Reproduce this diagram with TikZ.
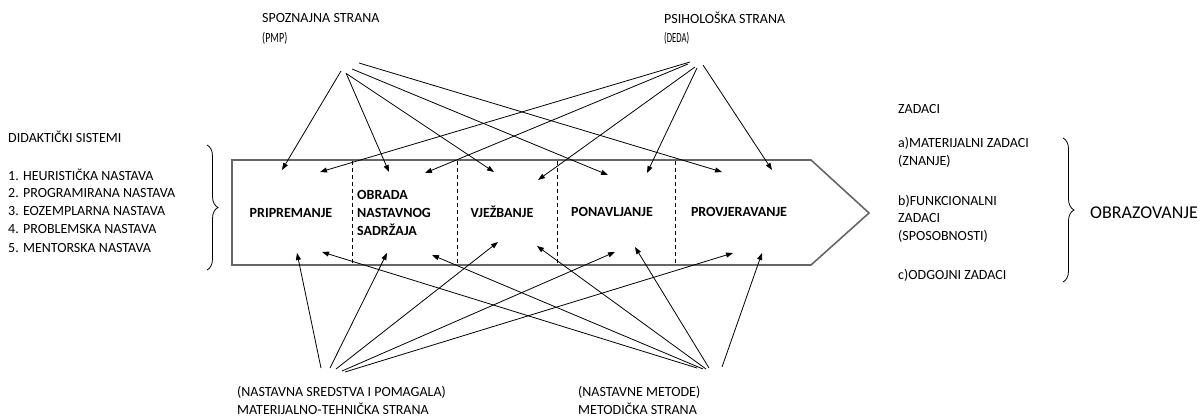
\documentclass[tikz,border=0pt]{standalone}
\usepackage{fontspec}
\setmainfont{Carlito}
\usetikzlibrary{arrows.meta,decorations.pathreplacing}
\begin{document}
\begin{tikzpicture}[x=1pt,y=-1pt,
  txt/.style={anchor=west,inner sep=0pt,font=\fontsize{14}{16}\selectfont},
  box/.style={inner sep=0pt,font=\fontsize{14}{18}\selectfont\bfseries,align=left},
  arr/.style={line width=0.8pt,-{Triangle[length=7pt,width=5pt]}},
  brc/.style={line width=0.8pt,decorate,decoration={brace,amplitude=11pt}},
  sep/.style={dashed,line width=0.7pt,dash pattern=on 4pt off 3pt}]
\useasboundingbox (0,0) rectangle (1204,419);
% main arrow shape
\draw[line width=1.6pt,draw=black!60] (232,160) -- (811,160) -- (869,213) -- (811,265) -- (232,265) -- cycle;
\coordinate (q1t) at (352,161); \coordinate (q1b) at (352,264);
\coordinate (q2t) at (457,161); \coordinate (q2b) at (457,264);
\coordinate (q3t) at (557,161); \coordinate (q3b) at (557,264);
\coordinate (q4t) at (675,161); \coordinate (q4b) at (675,264);
\draw[sep] (q1t) -- (q1b); \draw[sep] (q2t) -- (q2b);
\draw[sep] (q3t) -- (q3b); \draw[sep] (q4t) -- (q4b);
\node[box] (pri) at (291,213) {PRIPREMANJE};
\node[box,anchor=west] (obr) at (357,213) {OBRADA\\NASTAVNOG\\SADRŽAJA};
\node[box] (vje) at (502,212) {VJEŽBANJE};
\node[box] (pon) at (612,212) {PONAVLJANJE};
\node[box] (pro) at (739,212) {PROVJERAVANJE};
% top labels
\node[txt] (spoz) at (262,18) {SPOZNAJNA STRANA};
\node[txt] (pmp) at (262,38) {\scalebox{0.72}[1]{(PMP)}};
\node[txt] (psih) at (664,18) {PSIHOLOŠKA STRANA};
\node[txt] (deda) at (664,38) {\scalebox{0.62}[1]{(DEDA)}};
% bottom labels
\node[txt] (nsp) at (237,392) {(NASTAVNA SREDSTVA I POMAGALA)};
\node[txt] (mat) at (237,409) {MATERIJALNO-TEHNIČKA STRANA};
\node[txt] (nme) at (578,392) {(NASTAVNE METODE)};
\node[txt] (met) at (578,409) {METODIČKA STRANA};
% left list
\node[txt] (did) at (8,137) {DIDAKTIČKI SISTEMI};
\node[txt] (l1) at (8,175) {1. HEURISTIČKA NASTAVA};
\node[txt] (l2) at (8,193) {2. PROGRAMIRANA NASTAVA};
\node[txt] (l3) at (8,211) {3. EOZEMPLARNA NASTAVA};
\node[txt] (l4) at (8,229) {4. PROBLEMSKA NASTAVA};
\node[txt] (l5) at (8,248) {5. MENTORSKA NASTAVA};
\coordinate (lb1) at (207,145); \coordinate (lb2) at (207,270);
\draw[brc] (lb1) -- (lb2);
% right list
\node[txt] (zad) at (898,109) {ZADACI};
\node[txt] (ra1) at (898,143) {a)MATERIJALNI ZADACI};
\node[txt] (ra2) at (898,161) {(ZNANJE)};
\node[txt] (rb1) at (898,201) {b)FUNKCIONALNI};
\node[txt] (rb2) at (898,218) {ZADACI};
\node[txt] (rb3) at (898,236) {(SPOSOBNOSTI)};
\node[txt] (rc1) at (898,275) {c)ODGOJNI ZADACI};
\coordinate (rbr1) at (1063,138); \coordinate (rbr2) at (1063,282);
\draw[brc] (rbr1) -- (rbr2);
\node[txt,font=\fontsize{18}{20}\selectfont] (obz) at (1090,213) {OBRAZOVANJE};
% top sources
\coordinate (a1) at (341,71); \coordinate (ta1) at (282,170);
\coordinate (a2) at (346,73); \coordinate (ta2) at (389,172);
\coordinate (a3) at (347,74); \coordinate (ta3) at (494,172);
\coordinate (a4) at (352,69); \coordinate (ta4) at (608,175);
\coordinate (a5) at (359,63); \coordinate (ta5) at (722,172);
\coordinate (b1) at (690,62); \coordinate (tb1) at (320,172);
\coordinate (b2) at (688,64); \coordinate (tb2) at (425,173);
\coordinate (b3) at (695,67); \coordinate (tb3) at (538,180);
\coordinate (b4) at (697,68); \coordinate (tb4) at (647,173);
\coordinate (b5) at (703,65); \coordinate (tb5) at (772,170);
\foreach \s in {a1,a2,a3,a4,a5,b1,b2,b3,b4,b5} \draw[arr] (\s) -- (t\s);
% bottom sources
\coordinate (c1) at (321,368); \coordinate (tc1) at (297,253);
\coordinate (c2) at (330,368); \coordinate (tc2) at (387,253);
\coordinate (c3) at (336,369); \coordinate (tc3) at (498,242);
\coordinate (c4) at (342,371); \coordinate (tc4) at (615,252);
\coordinate (c5) at (345,372); \coordinate (tc5) at (733,253);
\coordinate (d1) at (697,368); \coordinate (td1) at (322,252);
\coordinate (d2) at (703,369); \coordinate (td2) at (432,255);
\coordinate (d3) at (706,369); \coordinate (td3) at (537,246);
\coordinate (d4) at (709,368); \coordinate (td4) at (635,247);
\coordinate (d5) at (722,367); \coordinate (td5) at (762,253);
\foreach \s in {c1,c2,c3,c4,c5,d1,d2,d3,d4,d5} \draw[arr] (\s) -- (t\s);
\end{tikzpicture}
\end{document}
